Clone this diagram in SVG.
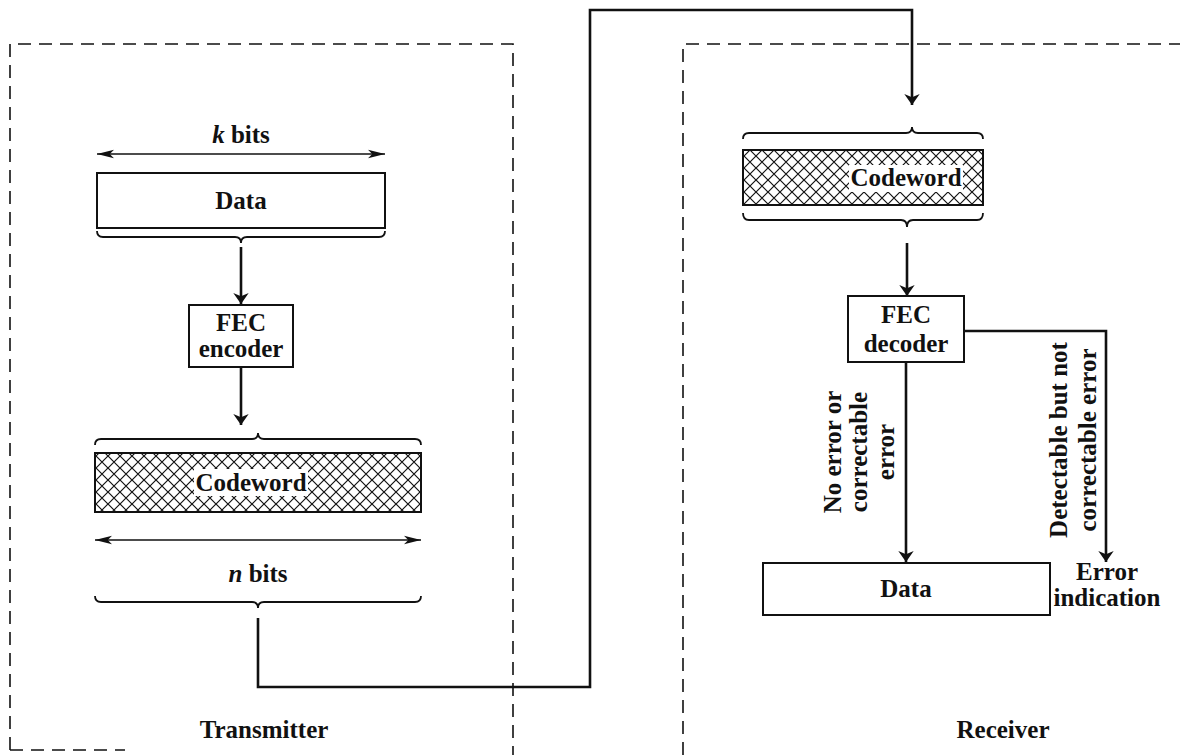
<svg xmlns="http://www.w3.org/2000/svg" width="1180" height="755" viewBox="0 0 1180 755">
<style>
text{font-family:"Liberation Serif","Times New Roman",serif;font-weight:bold;font-size:25px;fill:#111;text-anchor:middle}
.box{fill:#fff;stroke:#111;stroke-width:2}
.hatch{fill:url(#xh);stroke:#111;stroke-width:2}
.dash{fill:none;stroke:#111;stroke-width:1.6;stroke-dasharray:13 8}
.ln{fill:none;stroke:#111;stroke-width:2.6}
.arr{fill:none;stroke:#111;stroke-width:2.6;marker-end:url(#ah)}
.dim{fill:none;stroke:#111;stroke-width:1.6;marker-start:url(#ahs);marker-end:url(#ahs)}
.brace{fill:none;stroke:#111;stroke-width:1.8}
</style>
<defs>
<pattern id="xh" width="12" height="12" patternUnits="userSpaceOnUse">
<rect width="12" height="12" fill="#fff"/>
<path d="M0,0 L12,12 M12,0 L0,12" stroke="#111" stroke-width="1.2"/>
</pattern>
<marker id="ah" viewBox="0 0 10 20" refX="10" refY="10" markerWidth="11" markerHeight="22" markerUnits="userSpaceOnUse" orient="auto">
<path d="M0,3 L10,10 L0,17 L3,10 Z" fill="#111"/>
</marker>
<marker id="ahs" viewBox="0 0 16 10" refX="16" refY="5" markerWidth="17" markerHeight="11" markerUnits="userSpaceOnUse" orient="auto-start-reverse">
<path d="M0,1 L16,5 L0,9 L4,5 Z" fill="#111"/>
</marker>
</defs>

<g id="transmitter-frame">
<path class="dash" d="M10,750 V44 H513 V755"/>
<path class="dash" d="M10,750 H125"/>
<text x="264" y="738">Transmitter</text>
</g>
<g id="receiver-frame">
<path class="dash" d="M683,755 V44 H1180"/>
<text x="1003" y="738">Receiver</text>
</g>

<g id="k-bits">
<text x="241" y="143"><tspan font-style="italic">k</tspan> bits</text>
<path class="dim" d="M97,154 H385"/>
</g>
<g id="tx-data">
<rect class="box" x="97" y="173" width="288" height="55"/>
<text x="241" y="209">Data</text>
<path class="brace" d="M97,231 Q97,237 103,237 L235,237 Q241,237 241,243 Q241,237 247,237 L379,237 Q385,237 385,231"/>
</g>
<g id="fec-encoder">
<rect class="box" x="189" y="305" width="104" height="62"/>
<text x="241" y="331">FEC</text>
<text x="241" y="357">encoder</text>
</g>
<g id="tx-codeword">
<path class="brace" d="M95,445 Q95,439 101,439 L252,439 Q258,439 258,433 Q258,439 264,439 L415,439 Q421,439 421,445"/>
<rect class="hatch" x="95" y="453" width="326" height="59"/>
<rect x="194" y="469" width="114" height="27" fill="#fff"/>
<text x="251" y="491">Codeword</text>
<path class="dim" d="M95,540 H421"/>
<text x="258" y="582"><tspan font-style="italic">n</tspan> bits</text>
<path class="brace" d="M95,596 Q95,602 101,602 L252,602 Q258,602 258,608 Q258,602 264,602 L415,602 Q421,602 421,596"/>
</g>

<g id="rx-codeword">
<path class="brace" d="M743,139 Q743,133 749,133 L906,133 Q912,133 912,127 Q912,133 918,133 L977,133 Q983,133 983,139"/>
<rect class="hatch" x="743" y="150" width="240" height="55"/>
<rect x="849" y="165" width="114" height="27" fill="#fff"/>
<text x="906" y="186">Codeword</text>
<path class="brace" d="M743,213 Q743,220 749,220 L901,220 Q907,220 907,227 Q907,220 913,220 L977,220 Q983,220 983,213"/>
</g>
<g id="fec-decoder">
<rect class="box" x="848" y="296" width="116" height="66"/>
<text x="906" y="323">FEC</text>
<text x="906" y="352">decoder</text>
</g>
<g id="rx-data">
<rect class="box" x="763" y="563" width="287" height="52"/>
<text x="906" y="597">Data</text>
</g>
<g id="error-indication">
<text x="1107" y="580">Error</text>
<text x="1107" y="606">indication</text>
</g>

<g id="connectors">
<path class="arr" d="M241,247 V304"/>
<path class="arr" d="M241,367 V425"/>
<path class="arr" d="M258,618 V687 H590 V10 H912 V105"/>
<path class="arr" d="M907,243 V296"/>
<path class="arr" d="M906,362 V562"/>
<path class="arr" d="M964,331 H1106 V562"/>
<text transform="translate(841,452) rotate(-90)">No error or</text>
<text transform="translate(867,452) rotate(-90)">correctable</text>
<text transform="translate(894,452) rotate(-90)">error</text>
<text transform="translate(1067,440) rotate(-90)">Detectable but not</text>
<text transform="translate(1096,440) rotate(-90)">correctable error</text>
</g>
</svg>
